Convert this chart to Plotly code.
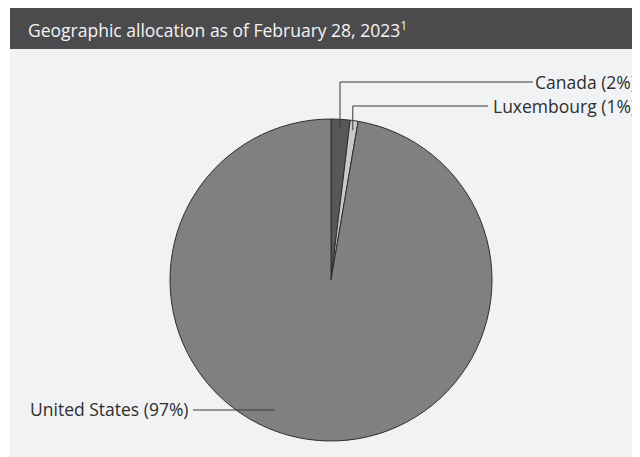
import math
import plotly.graph_objects as go

# ---- data ----
countries = ["Canada", "Luxembourg", "United States"]
shares = [1.9, 0.8, 97.3]
label_texts = ["Canada (2%)", "Luxembourg (1%)", "United States (97%)"]
slice_colors = ["#58585b", "#c9c9cc", "#808083"]
title_text = "Geographic allocation as of February 28, 2023<sup>1</sup>"

W, H = 632, 449
def px(x):
    return x / W
def py(y):
    return 1 - y / H

CX, CY, R = 323, 272, 161

fig = go.Figure()
fig.add_trace(go.Pie(
    labels=countries,
    values=shares,
    sort=False,
    direction="clockwise",
    rotation=0,
    marker=dict(colors=slice_colors, line=dict(color="#2e2e30", width=1)),
    textinfo="none",
    hoverinfo="label+percent",
    showlegend=False,
    domain=dict(x=[px(CX - R), px(CX + R)], y=[py(CY + R), py(CY - R)]),
))

shapes = [
    dict(type="rect", xref="paper", yref="paper", x0=px(2), x1=1, y0=0, y1=py(41),
         fillcolor="#f1f2f4", line=dict(width=0), layer="below"),
    dict(type="rect", xref="paper", yref="paper", x0=px(2), x1=1, y0=py(41), y1=1,
         fillcolor="#4b4b4d", line=dict(width=0), layer="below"),
]

# leader lines for small slices, computed from the slice mid-angles
total = sum(shares)
cum = 0
label_rows = {"Canada": (74, 525), "Luxembourg": (98, 480)}
annotations = []
line_col = "#3a3a3c"
text_col = "#2e2e30"
for name, v, txt in zip(countries, shares, label_texts):
    mid = (cum + v / 2) / total * 2 * math.pi
    cum += v
    if name in label_rows:
        ly, lx_end = label_rows[name]
        sx = CX + R * 0.94 * math.sin(mid)
        sy = CY - R * 0.94 * math.cos(mid)
        shapes.append(dict(type="line", xref="paper", yref="paper",
                           x0=px(sx), y0=py(sy), x1=px(sx), y1=py(ly),
                           line=dict(color=line_col, width=1)))
        shapes.append(dict(type="line", xref="paper", yref="paper",
                           x0=px(sx), y0=py(ly), x1=px(lx_end), y1=py(ly),
                           line=dict(color=line_col, width=1)))
        annotations.append(dict(text=txt, x=px(630), y=py(ly), xref="paper", yref="paper",
                                xanchor="right", yanchor="middle", showarrow=False,
                                font=dict(size=17.5, color=text_col)))
    else:
        shapes.append(dict(type="line", xref="paper", yref="paper",
                           x0=px(185), y0=py(402), x1=px(267), y1=py(402),
                           line=dict(color=line_col, width=1)))
        annotations.append(dict(text=txt, x=px(183), y=py(401), xref="paper", yref="paper",
                                xanchor="right", yanchor="middle", showarrow=False,
                                font=dict(size=17.5, color=text_col)))

annotations.append(dict(text=title_text, x=px(18), y=py(21), xref="paper", yref="paper",
                        xanchor="left", yanchor="middle", showarrow=False,
                        font=dict(size=17.5, color="#f4f4f4")))

fig.update_layout(
    width=W, height=H,
    margin=dict(l=0, r=0, t=0, b=0),
    paper_bgcolor="white",
    plot_bgcolor="white",
    font=dict(family="Open Sans, sans-serif"),
    shapes=shapes,
    annotations=annotations,
)

fig.write_html("out.html")
